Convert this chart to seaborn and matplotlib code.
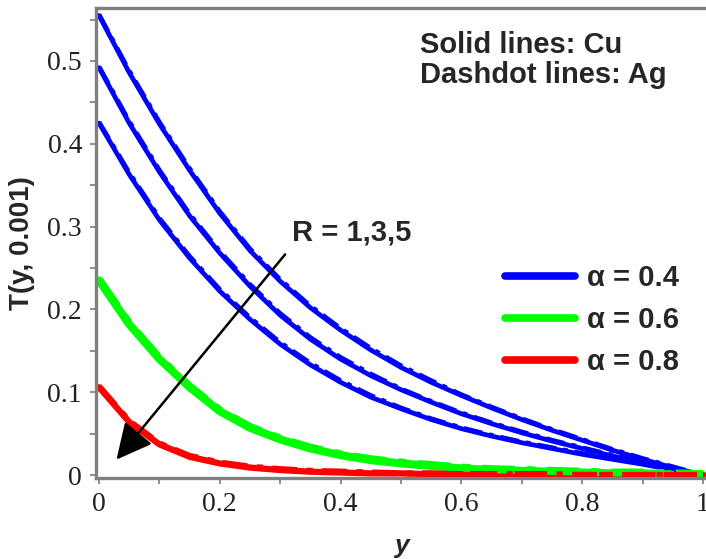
import matplotlib
matplotlib.use("Agg")
import matplotlib.pyplot as plt
from matplotlib.lines import Line2D
from matplotlib.ticker import MultipleLocator
import pandas as pd
import seaborn as sns

Y = [0.00, 0.05, 0.10, 0.15, 0.20, 0.25, 0.30, 0.35, 0.40, 0.45, 0.50,
     0.55, 0.60, 0.65, 0.70, 0.75, 0.80, 0.85, 0.90, 0.95, 1.00]

# Cu (solid lines)
CU_A04_R1 = [0.555, 0.486, 0.424, 0.368, 0.316, 0.271, 0.234, 0.202, 0.175, 0.151, 0.130,
             0.112, 0.096, 0.081, 0.067, 0.054, 0.042, 0.030, 0.019, 0.009, 0.000]
CU_A04_R3 = [0.492, 0.425, 0.366, 0.313, 0.268, 0.228, 0.193, 0.164, 0.140, 0.120, 0.103,
             0.088, 0.074, 0.062, 0.051, 0.041, 0.032, 0.023, 0.015, 0.007, 0.000]
CU_A04_R5 = [0.425, 0.363, 0.308, 0.262, 0.222, 0.188, 0.158, 0.133, 0.112, 0.094, 0.080,
             0.067, 0.056, 0.047, 0.039, 0.032, 0.025, 0.019, 0.013, 0.006, 0.000]
CU_A06 = [0.235, 0.182, 0.140, 0.106, 0.077, 0.057, 0.043, 0.032, 0.024, 0.018, 0.014,
          0.011, 0.008, 0.006, 0.005, 0.004, 0.003, 0.002, 0.002, 0.001, 0.000]
CU_A08 = [0.106, 0.064, 0.037, 0.022, 0.014, 0.009, 0.006, 0.004, 0.003, 0.002, 0.002,
          0.001, 0.001, 0.001, 0.001, 0.000, 0.000, 0.000, 0.000, 0.000, 0.000]

# Ag (dashdot lines), almost on top of Cu
AG_A04_R1 = [0.556, 0.488, 0.426, 0.370, 0.318, 0.273, 0.236, 0.204, 0.177, 0.153, 0.132,
             0.114, 0.097, 0.082, 0.068, 0.055, 0.043, 0.031, 0.020, 0.010, 0.000]
AG_A04_R3 = [0.493, 0.427, 0.368, 0.315, 0.270, 0.230, 0.195, 0.166, 0.142, 0.122, 0.104,
             0.089, 0.075, 0.063, 0.052, 0.042, 0.033, 0.024, 0.016, 0.008, 0.000]
AG_A04_R5 = [0.426, 0.365, 0.310, 0.264, 0.224, 0.190, 0.160, 0.135, 0.114, 0.096, 0.081,
             0.068, 0.057, 0.048, 0.040, 0.033, 0.026, 0.020, 0.014, 0.007, 0.000]
AG_A06 = [0.236, 0.183, 0.141, 0.107, 0.078, 0.058, 0.044, 0.033, 0.025, 0.019, 0.015,
          0.012, 0.009, 0.007, 0.006, 0.005, 0.004, 0.003, 0.003, 0.002, 0.001]
AG_A08 = [0.107, 0.065, 0.038, 0.023, 0.015, 0.010, 0.007, 0.005, 0.004, 0.003, 0.002,
          0.002, 0.001, 0.001, 0.001, 0.001, 0.000, 0.000, 0.000, 0.000, 0.000]

SERIES = [
    ("Cu", "0.4", 1, CU_A04_R1), ("Cu", "0.4", 3, CU_A04_R3), ("Cu", "0.4", 5, CU_A04_R5),
    ("Cu", "0.6", 1, CU_A06), ("Cu", "0.8", 1, CU_A08),
    ("Ag", "0.4", 1, AG_A04_R1), ("Ag", "0.4", 3, AG_A04_R3), ("Ag", "0.4", 5, AG_A04_R5),
    ("Ag", "0.6", 1, AG_A06), ("Ag", "0.8", 1, AG_A08),
]

df = pd.concat(
    [pd.DataFrame({"y": Y, "T": v, "material": m, "alpha": a, "R": r}) for m, a, r, v in SERIES],
    ignore_index=True,
)

COLORS = {"0.4": "#0000ff", "0.6": "#00ff00", "0.8": "#ff0000"}
WIDTHS = {"0.4": 3.4, "0.6": 5.8, "0.8": 4.5}

sns.set_style("white")
plt.rcParams["font.family"] = ["Liberation Sans", "DejaVu Sans"]

fig = plt.figure(figsize=(7.06, 5.59), dpi=100)
ax = fig.add_axes([96 / 706, 1 - 478 / 559, 610 / 706, 470 / 559])

for mat, dash in (("Cu", ""), ("Ag", (4, 1.5, 1, 1.5))):
    sns.lineplot(data=df[df["material"] == mat], x="y", y="T", hue="alpha", size="alpha",
                 style="material", units="R", estimator=None, sort=False,
                 palette=COLORS, sizes=WIDTHS, dashes={mat: dash}, legend=False, ax=ax)

ax.set_xlim(-0.005, 1.005)
ax.set_ylim(-0.0036, 0.564)
ax.set_xticks([0, 0.2, 0.4, 0.6, 0.8, 1.0])
ax.set_xticklabels(["0", "0.2", "0.4", "0.6", "0.8", "1"])
ax.set_yticks([0, 0.1, 0.2, 0.3, 0.4, 0.5])
ax.set_yticklabels(["0", "0.1", "0.2", "0.3", "0.4", "0.5"])
ax.xaxis.set_minor_locator(MultipleLocator(0.1))
ax.yaxis.set_minor_locator(MultipleLocator(0.05))
ax.tick_params(which="both", direction="out", length=4, width=1.5, color="#909090",
               bottom=True, left=True)
ax.tick_params(which="major", labelsize=20, labelcolor="#222222", pad=6)
for lab in ax.get_xticklabels() + ax.get_yticklabels():
    lab.set_family("Liberation Serif")

for side in ("left", "bottom", "top"):
    ax.spines[side].set_color("#808080")
    ax.spines[side].set_linewidth(2.4)
ax.spines["right"].set_visible(False)

ax.set_xlabel("y", fontsize=19, fontweight="bold", style="italic")
ax.xaxis.set_label_coords(0.5, -0.12)
ax.set_ylabel("T(y, 0.001)", fontsize=20, fontweight="bold")
ax.yaxis.set_label_coords(-0.1, 0.5)

ax.text(0.531, 0.536, "Solid lines: Cu\nDashdot lines: Ag", fontsize=21, fontweight="bold",
        va="top", ha="left", linespacing=1.1)
ax.text(0.32, 0.293, "R = 1,3,5", fontsize=21, fontweight="bold", va="center", ha="left")
ax.annotate("", xy=(0.026, 0.016), xytext=(0.311, 0.269),
            arrowprops=dict(arrowstyle="-|>,head_length=1.1,head_width=0.55",
                            mutation_scale=20, lw=1.8, color="black"))

handles = [Line2D([0], [0], color=COLORS[a], lw=5.5) for a in ("0.4", "0.6", "0.8")]
ax.legend(handles, ["α = 0.4", "α = 0.6", "α = 0.8"], loc="upper left",
          bbox_to_anchor=(505 / 706, 1 - 264 / 559), bbox_transform=fig.transFigure,
          frameon=False, borderpad=0, borderaxespad=0, handlelength=2.4,
          handletextpad=0.4, labelspacing=0.48,
          prop={"size": 21, "weight": "bold"})

fig.savefig("out.png", dpi=100)
